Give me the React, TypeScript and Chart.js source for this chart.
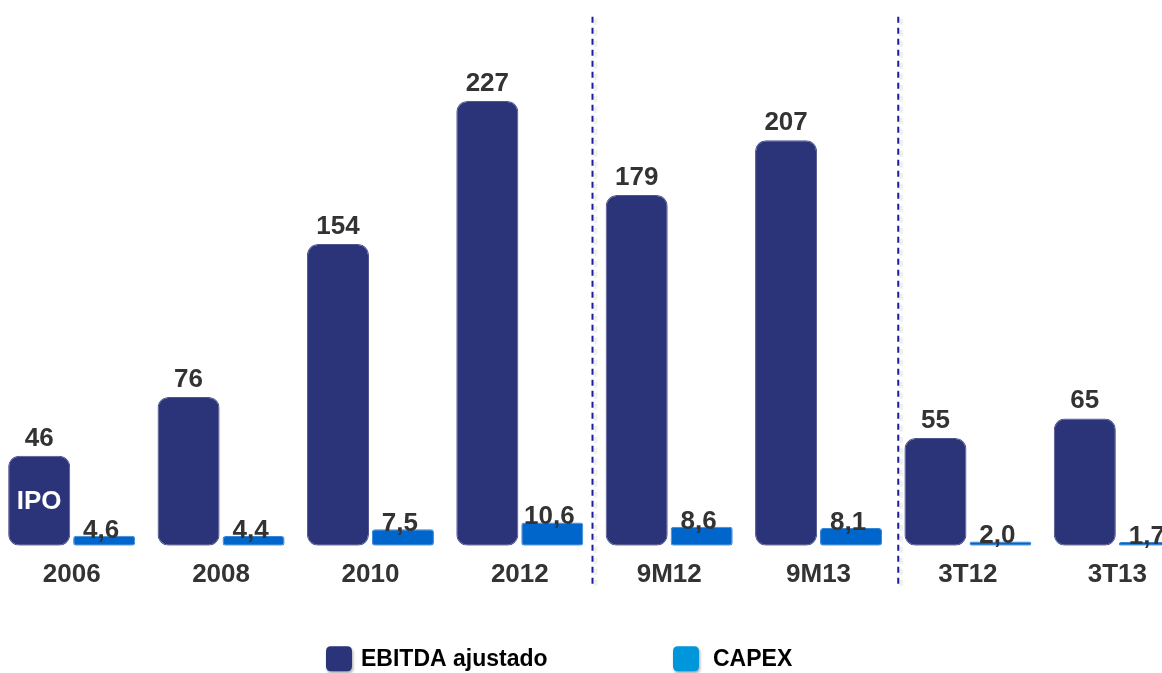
import React, { useEffect, useRef } from "react";
import { Chart, registerables } from "chart.js";

Chart.register(...registerables);

const categories = ["2006", "2008", "2010", "2012", "9M12", "9M13", "3T12", "3T13"];
const ebitdaValues = [46, 76, 154, 227, 179, 207, 55, 65];
const capexValues = [4.6, 4.4, 7.5, 10.6, 8.6, 8.1, 2.0, 1.7];
const seriesNames = ["EBITDA ajustado", "CAPEX"];
const separatorAfterIndex = [3, 5];
const barNote = { index: 0, text: "IPO" };

const NAVY = "#2B3379";
const CAPEX_BAR = "#0066CC";
const CAPEX_LEGEND = "#0096DB";
const LABEL = "#333333";
const FONT = "'Liberation Sans', Arial, sans-serif";

const fmt = (v: number, dec: number) => v.toFixed(dec).replace(".", ",");

const roundRect = (ctx: CanvasRenderingContext2D, x: number, y: number, w: number, h: number, r: number) => {
  ctx.beginPath();
  ctx.moveTo(x + r, y);
  ctx.lineTo(x + w - r, y);
  ctx.quadraticCurveTo(x + w, y, x + w, y + r);
  ctx.lineTo(x + w, y + h - r);
  ctx.quadraticCurveTo(x + w, y + h, x + w - r, y + h);
  ctx.lineTo(x + r, y + h);
  ctx.quadraticCurveTo(x, y + h, x, y + h - r);
  ctx.lineTo(x, y + r);
  ctx.quadraticCurveTo(x, y, x + r, y);
  ctx.closePath();
};

const separatorPlugin = {
  id: "separators",
  afterDatasetsDraw(chart: any) {
    const ctx = chart.ctx;
    const x = chart.scales.x;
    const y = chart.scales.y;
    const top = y.getPixelForValue(270);
    const bottom = chart.chartArea.bottom + 39;
    const shifts = [-2, 5];
    separatorAfterIndex.forEach((i, k) => {
      const px = (x.getPixelForValue(i) + x.getPixelForValue(i + 1)) / 2 + shifts[k];
      ctx.save();
      ctx.setLineDash([6, 5]);
      ctx.lineWidth = 4;
      ctx.strokeStyle = "rgba(0,0,0,0.06)";
      ctx.beginPath();
      ctx.moveTo(px + 3, top + 2);
      ctx.lineTo(px + 3, bottom + 2);
      ctx.stroke();
      ctx.lineWidth = 2;
      ctx.strokeStyle = "#1C1C9C";
      ctx.beginPath();
      ctx.moveTo(px, top);
      ctx.lineTo(px, bottom);
      ctx.stroke();
      ctx.restore();
    });
  },
};

const labelPlugin = {
  id: "valueLabels",
  afterDatasetsDraw(chart: any) {
    const ctx = chart.ctx;
    ctx.save();
    ctx.font = `bold 26px ${FONT}`;
    ctx.textAlign = "center";
    ctx.textBaseline = "alphabetic";
    ctx.fillStyle = LABEL;
    const m0 = chart.getDatasetMeta(0);
    m0.data.forEach((bar: any, i: number) => {
      ctx.fillText(fmt(ebitdaValues[i], 0), bar.x, bar.y - 10);
    });
    const m1 = chart.getDatasetMeta(1);
    m1.data.forEach((bar: any, i: number) => {
      ctx.fillText(fmt(capexValues[i], 1), bar.x - 3, bar.y + 2);
    });
    const nb = m0.data[barNote.index];
    ctx.fillStyle = "#FFFFFF";
    ctx.textBaseline = "middle";
    ctx.fillText(barNote.text, nb.x, (nb.y + nb.base) / 2 + 1);
    ctx.restore();
  },
};

const legendPlugin = {
  id: "customLegend",
  afterDraw(chart: any) {
    const ctx = chart.ctx;
    const area = chart.chartArea;
    const cy = area.bottom + 113;
    const items = [
      { text: seriesNames[0], color: NAVY, x: 329 },
      { text: seriesNames[1], color: CAPEX_LEGEND, x: 676 },
    ];
    ctx.save();
    items.forEach((it) => {
      ctx.save();
      ctx.shadowColor = "rgba(0,0,0,0.35)";
      ctx.shadowBlur = 3;
      ctx.shadowOffsetX = 1;
      ctx.shadowOffsetY = 2;
      ctx.fillStyle = it.color;
      roundRect(ctx, it.x, cy - 12.5, 26, 25, 5);
      ctx.fill();
      ctx.restore();
      ctx.font = `bold 23px ${FONT}`;
      ctx.fillStyle = "#000000";
      ctx.textAlign = "left";
      ctx.textBaseline = "middle";
      ctx.fillText(it.text, it.x + 35 + (it.color === CAPEX_LEGEND ? 5 : 0), cy + 1);
    });
    ctx.restore();
  },
};

export default function App() {
  const ref = useRef<HTMLCanvasElement | null>(null);

  useEffect(() => {
    if (!ref.current) return;
    const chart = new Chart(ref.current, {
      type: "bar",
      data: {
        labels: categories,
        datasets: [
          {
            label: seriesNames[0],
            data: ebitdaValues,
            yAxisID: "y",
            backgroundColor: NAVY,
            borderColor: "#50568F",
            borderWidth: 1,
            borderRadius: 11,
            borderSkipped: false,
            categoryPercentage: 0.87,
            barPercentage: 0.955,
          },
          {
            label: seriesNames[1],
            data: capexValues,
            yAxisID: "y2",
            backgroundColor: CAPEX_BAR,
            borderColor: "#3A86D6",
            borderWidth: 1,
            borderRadius: 3,
            borderSkipped: false,
            categoryPercentage: 0.87,
            barPercentage: 0.955,
          },
        ],
      },
      options: {
        animation: false,
        responsive: true,
        maintainAspectRatio: false,
        layout: { padding: { top: 56, bottom: 70, left: 0, right: 0 } },
        plugins: {
          legend: { display: false },
          tooltip: { enabled: false },
        },
        scales: {
          x: {
            grid: { display: false, drawTicks: false },
            border: { display: false },
            ticks: {
              color: LABEL,
              padding: 13,
              font: { family: FONT, size: 26, weight: "bold" },
              maxRotation: 0,
              autoSkip: false,
            },
          },
          y: {
            display: false,
            min: 0,
            max: 250,
          },
          y2: {
            display: false,
            position: "right",
            min: 0,
            max: 222,
          },
        },
      },
      plugins: [separatorPlugin, labelPlugin, legendPlugin],
    });
    return () => chart.destroy();
  }, []);

  return (
    <div style={{ position: "absolute", left: 0, top: 0, width: 1162, height: 673, overflow: "hidden", background: "#fff" }}>
      <div style={{ position: "absolute", left: -3, top: 0, width: 1195, height: 673 }}>
        <canvas ref={ref} />
      </div>
    </div>
  );
}
